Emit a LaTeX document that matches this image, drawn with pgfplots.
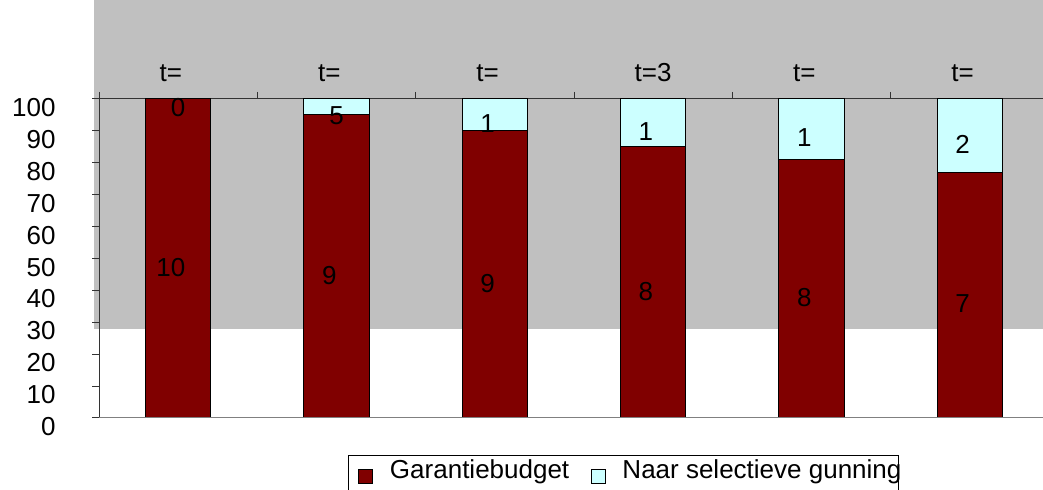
\documentclass[border=0pt]{standalone}
\usepackage{fontspec}
\setmainfont{Liberation Sans}
\usepackage{pgfplots}
\pgfplotsset{compat=1.18}
\definecolor{barred}{RGB}{128,0,0}
\definecolor{barcyan}{RGB}{204,255,255}
\definecolor{bggray}{RGB}{192,192,192}
\pgfplotsset{sqlegend/.style={legend image code/.code={\draw[##1, line width=0.5pt] (0pt,-2.5pt) rectangle (7pt,4.5pt); \path[draw=none,fill=none] (0pt,-12pt) rectangle (15.5pt,0.1pt);}}}
\pgfplotsset{base/.style={scale only axis, width=475pt, height=159.5pt,
  at={(49.5pt,36pt)}, anchor=south west,
  xmin=-0.5, xmax=5.5, ymin=0, ymax=100}}
\begin{document}
\fontsize{13}{15.6}\selectfont
\begin{tikzpicture}[font=\fontsize{13}{15.6}\selectfont]
\useasboundingbox (0,0) rectangle (521.5pt,245pt);
\clip (0,0) rectangle (521.5pt,245pt);
\fill[bggray] (47pt,80.65pt) rectangle (521.5pt,245pt);
\begin{axis}[base, ybar stacked, bar width=32.7pt,
  axis x line*=top, axis y line*=left, tick align=outside,
  major tick length=3.5pt,
  axis line style={black!80, line width=0.5pt},
  tick style={black!80, line width=0.5pt},
  xtick={-0.5,0.5,1.5,2.5,3.5,4.5,5.5}, xticklabels={,,,,,,},
  extra x ticks={0,1,2,3,4,5},
  extra x tick labels={{t=\phantom{0}},{t=\phantom{1}},{t=\phantom{2}},{t=3},{t=\phantom{4}},{t=\phantom{5}}},
  extra x tick style={major tick length=0pt},
  xticklabel style={anchor=base, inner sep=0pt, yshift=8.5pt},
  ytick={0,10,...,100},
  yticklabel style={anchor=base east, inner sep=0pt, xshift=-18pt, yshift=-8.8pt},
  /pgf/number format/assume math mode=true,
  legend columns=2,
  legend style={at={(0.2621,-0.116)}, anchor=north west, draw=black,
    nodes={inner sep=0pt},
    line width=0.5pt, inner xsep=5pt, inner ysep=2pt, column sep=0pt,
    cells={anchor=base west, inner sep=0pt}},
]
\draw[gray, line width=0.5pt] (rel axis cs:0,0) -- (rel axis cs:1,0);
\addplot[fill=barred, draw=black, line width=0.5pt, sqlegend]
  coordinates {(0,100) (1,95) (2,90) (3,85) (4,81) (5,77)};
\addplot[fill=barcyan, draw=black, line width=0.5pt, sqlegend]
  coordinates {(0,0) (1,5) (2,10) (3,15) (4,19) (5,23)};
\legend{{\makebox[100.5pt][l]{Garantiebudget}},{\makebox[133pt][l]{Naar selectieve gunning}}}
\end{axis}
\begin{axis}[base, hide axis, clip=false]
\addplot[draw=none, mark=none, nodes near coords, point meta=explicit symbolic,
  every node near coord/.append style={anchor=base, inner sep=0pt, yshift=-8.8pt, black}]
  coordinates {
  (0,50) [10\phantom{0}] (1,47.5) [9\phantom{5}] (2,45) [9\phantom{0}]
  (3,42.5) [8\phantom{5}] (4,40.5) [8\phantom{1}] (5,38.5) [7\phantom{7}]
  (0,100) [0] (1,97.5) [5] (2,95) [1\phantom{0}]
  (3,92.5) [1\phantom{5}] (4,90.5) [1\phantom{9}] (5,88.5) [2\phantom{3}]};
\end{axis}
\end{tikzpicture}
\end{document}
